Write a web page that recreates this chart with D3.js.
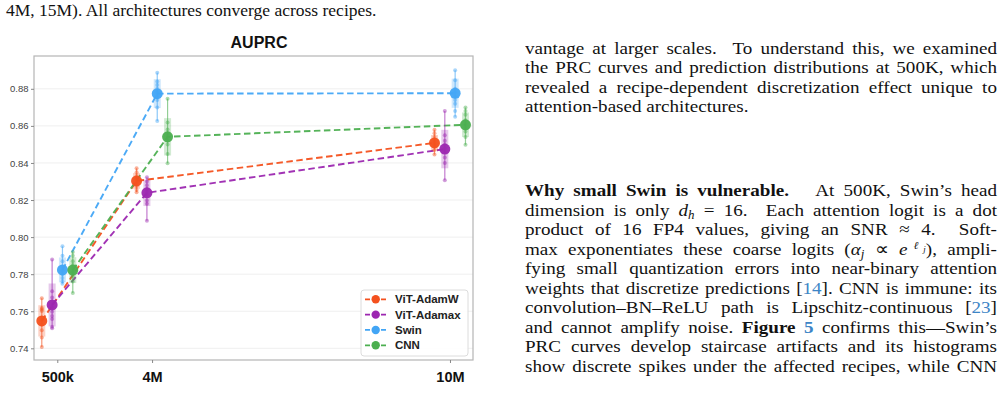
<!DOCTYPE html>
<html><head><meta charset="utf-8">
<script src="https://cdn.jsdelivr.net/npm/d3@7"></script>
<style>
html,body{margin:0;padding:0;background:#fff;width:1006px;height:402px;overflow:hidden;position:relative}
svg{position:absolute;left:0;top:0}
.txt{position:absolute;font-family:"Liberation Serif","Times New Roman",serif;color:#111;font-size:17.5px;line-height:20px;height:20px;white-space:nowrap}
.jl{left:525px;width:433px;transform:scaleX(1.09);transform-origin:0 0;text-align:justify;text-align-last:justify}
.last{text-align-last:left}
.ref{color:#3d85c6}
sub,sup{font-size:68%;line-height:0;position:relative;vertical-align:baseline}
sub{top:0.3em}
sup{top:-0.45em}
.ell{font-family:"DejaVu Serif",serif;font-style:italic;font-size:90%;margin-left:0.5px}
.tight{margin-left:-0.5px}
</style></head><body>
<script>
// ---------- data ----------
const scaleLabels = ["500k", "4M", "10M"];
const scaleParamsM = [0.5, 4, 15];
const seriesNames = ["ViT-AdamW", "ViT-Adamax", "Swin", "CNN"];
const seriesColors = ["#F4511E", "#9C27B0", "#42A5F5", "#4CAF50"];
const yTicks = [0.74, 0.76, 0.78, 0.80, 0.82, 0.84, 0.86, 0.88];

const meanAdamW  = [0.7548, 0.8303, 0.8508];
const meanAdamax = [0.7634, 0.8239, 0.8475];
const meanSwin   = [0.7823, 0.8774, 0.8776];
const meanCNN    = [0.7822, 0.8541, 0.8606];

const seedsAdamW = [
  [0.7670, 0.7618, 0.7610, 0.7602, 0.7552, 0.7529, 0.7498, 0.7459, 0.7407],
  [0.8371, 0.8350, 0.8330, 0.8315, 0.8300, 0.8290, 0.8275, 0.8256, 0.8242],
  [0.8579, 0.8560, 0.8540, 0.8525, 0.8510, 0.8500, 0.8490, 0.8470, 0.8445]
];
const seedsAdamax = [
  [0.7879, 0.7708, 0.7674, 0.7624, 0.7597, 0.7575, 0.7558, 0.7516, 0.7508],
  [0.8323, 0.8300, 0.8280, 0.8260, 0.8245, 0.8230, 0.8197, 0.8180, 0.8088],
  [0.8680, 0.8550, 0.8520, 0.8500, 0.8480, 0.8460, 0.8430, 0.8400, 0.8307]
];
const seedsSwin = [
  [0.7950, 0.7900, 0.7870, 0.7840, 0.7820, 0.7800, 0.7780, 0.7760, 0.7749],
  [0.8887, 0.8840, 0.8820, 0.8800, 0.8780, 0.8760, 0.8740, 0.8699, 0.8627],
  [0.8900, 0.8846, 0.8800, 0.8780, 0.8760, 0.8740, 0.8720, 0.8680, 0.8649]
];
const seedsCNN = [
  [0.7919, 0.7900, 0.7870, 0.7850, 0.7830, 0.7810, 0.7790, 0.7760, 0.7699],
  [0.8747, 0.8618, 0.8580, 0.8560, 0.8540, 0.8520, 0.8500, 0.8448, 0.8398],
  [0.8699, 0.8680, 0.8660, 0.8630, 0.8610, 0.8590, 0.8570, 0.8540, 0.8498]
];

const captionText = "4M, 15M). All architectures converge across recipes.";
const para1 = [
  "vantage at larger scales.&nbsp; To understand this, we examined",
  "the PRC curves and prediction distributions at 500K, which",
  "revealed a recipe-dependent discretization effect unique to",
  "attention-based architectures."
];
const para2 = [
  "<b>Why small Swin is vulnerable.</b>&nbsp;&nbsp; At 500K, Swin’s head",
  "dimension is only <i>d</i><sub><i>h</i></sub> = 16.&nbsp; Each attention logit is a dot",
  "product of 16 FP4 values, giving an SNR ≈ 4.&nbsp; Soft-",
  "max exponentiates these coarse logits (<i>α</i><sub><i>j</i></sub> ∝ <i>e</i><sup><span class=\"ell\">ℓ</span><sub class=\"tight\"><i>j</i></sub></sup>), ampli-",
  "fying small quantization errors into near-binary attention",
  "weights that discretize predictions [<span class=\"ref\">14</span>]. CNN is immune: its",
  "convolution–BN–ReLU path is Lipschitz-continuous [<span class=\"ref\">23</span>]",
  "and cannot amplify noise. <b>Figure <span class=\"ref\">5</span></b> confirms this—Swin’s",
  "PRC curves develop staircase artifacts and its histograms",
  "show discrete spikes under the affected recipes, while CNN"
];

const series = [
  {name: seriesNames[0], color: seriesColors[0], means: meanAdamW,  seeds: seedsAdamW},
  {name: seriesNames[1], color: seriesColors[1], means: meanAdamax, seeds: seedsAdamax},
  {name: seriesNames[2], color: seriesColors[2], means: meanSwin,   seeds: seedsSwin},
  {name: seriesNames[3], color: seriesColors[3], means: meanCNN,    seeds: seedsCNN}
];

// ---------- text ----------
const body = d3.select("body");
body.append("div").attr("class", "txt").style("left", "6px").style("top", "0px").text(captionText);
const p1Base = [54, 73.4, 92.8, 112.2];
para1.forEach((l, i) => {
  body.append("div").attr("class", "txt jl" + (i === para1.length - 1 ? " last" : ""))
    .style("top", (p1Base[i] - 16) + "px").html(l);
});
para2.forEach((l, i) => {
  body.append("div").attr("class", "txt jl")
    .style("top", (196 + i * 19.56 - 16) + "px").html(l);
});

// ---------- chart ----------
const svg = body.append("svg").attr("width", 1006).attr("height", 402);
const FR = {l: 34, t: 56, r: 473, b: 360};
const x = d3.scaleLinear().domain([-0.36, 15.85]).range([FR.l, FR.r]);
const y = d3.scaleLinear().domain([0.7337, 0.8977]).range([FR.b, FR.t]);
const dodge = d3.scalePoint().domain(seriesNames).range([-15.5, 15.5]);
const font = "'Liberation Sans', Arial, Helvetica, sans-serif";

svg.append("text").attr("x", 259).attr("y", 48).attr("text-anchor", "middle")
  .style("font-family", font).style("font-weight", "bold").style("font-size", "16px")
  .attr("fill", "#111").text("AUPRC");

svg.append("g").selectAll("line").data(yTicks).join("line")
  .attr("x1", FR.l).attr("x2", FR.r).attr("y1", d => y(d)).attr("y2", d => y(d))
  .attr("stroke", "#efefef").attr("stroke-width", 1);

svg.append("rect").attr("x", FR.l).attr("y", FR.t).attr("width", FR.r - FR.l).attr("height", FR.b - FR.t)
  .attr("fill", "none").attr("stroke", "#b5b5b5").attr("stroke-width", 1.2);

const yAxis = svg.append("g").attr("transform", `translate(${FR.l},0)`)
  .call(d3.axisLeft(y).tickValues(yTicks).tickFormat(d3.format(".2f")).tickSize(3).tickPadding(2.5));
yAxis.select(".domain").remove();
yAxis.selectAll("line").attr("stroke", "#888");
yAxis.selectAll("text").style("font-family", font).style("font-size", "9.5px").attr("fill", "#444");

const xAxis = svg.append("g").attr("transform", `translate(0,${FR.b})`)
  .call(d3.axisBottom(x).tickValues(scaleParamsM).tickFormat((d, i) => scaleLabels[i]).tickSize(3).tickPadding(9));
xAxis.select(".domain").remove();
xAxis.selectAll("line").attr("stroke", "#888");
xAxis.selectAll("text").style("font-family", font).style("font-size", "14.5px").style("font-weight", "bold").attr("fill", "#111");

const px = (s, i) => x(scaleParamsM[i]) + dodge(s.name);

// dashed lines
const lineGen = d3.line().x(d => d[0]).y(d => d[1]);
svg.append("g").selectAll("path").data(series).join("path")
  .attr("d", s => lineGen(s.means.map((m, i) => [px(s, i), y(m)])))
  .attr("fill", "none").attr("stroke", s => s.color).attr("stroke-width", 1.9)
  .attr("stroke-dasharray", "6.5,3.5").attr("opacity", 0.95);

// clusters
series.forEach(s => {
  const g = svg.append("g");
  s.seeds.forEach((sd, i) => {
    const cx = px(s, i);
    const lo = d3.min(sd), hi = d3.max(sd);
    const m = s.means[i], dev = d3.deviation(sd);
    g.append("line").attr("x1", cx).attr("x2", cx).attr("y1", y(hi)).attr("y2", y(lo))
      .attr("stroke", s.color).attr("stroke-width", 1.2).attr("opacity", 0.6);
    g.append("rect").attr("x", cx - 3.5).attr("width", 7)
      .attr("y", y(m + dev)).attr("height", y(m - dev) - y(m + dev))
      .attr("fill", s.color).attr("opacity", 0.25);
    g.selectAll(null).data(sd).join("circle")
      .attr("cx", cx).attr("cy", d => y(d)).attr("r", 2)
      .attr("fill", s.color).attr("opacity", 0.45);
    g.append("circle").attr("cx", cx).attr("cy", y(m)).attr("r", 5.5)
      .attr("fill", s.color).attr("opacity", 0.95);
  });
});

// legend
const lg = svg.append("g");
lg.append("rect").attr("x", 361).attr("y", 290).attr("width", 107).attr("height", 66)
  .attr("rx", 3).attr("fill", "#fff").attr("fill-opacity", 0.9).attr("stroke", "#dcdcdc");
const ly = d3.scalePoint().domain(seriesNames).range([299.3, 345.3]);
series.forEach(s => {
  const yy = ly(s.name);
  lg.append("line").attr("x1", 365).attr("x2", 386).attr("y1", yy).attr("y2", yy)
    .attr("stroke", s.color).attr("stroke-width", 1.8).attr("stroke-dasharray", "5,3");
  lg.append("circle").attr("cx", 375.7).attr("cy", yy).attr("r", 4.2).attr("fill", s.color);
  lg.append("text").attr("x", 395).attr("y", yy).attr("dy", "0.35em")
    .style("font-family", font).style("font-size", "11.5px").style("font-weight", "bold")
    .attr("fill", "#222").text(s.name);
});
</script></body></html>
